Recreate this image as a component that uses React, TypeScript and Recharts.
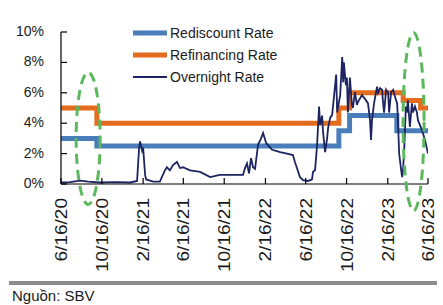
import {
  LineChart,
  Line,
  XAxis,
  YAxis,
  Legend,
  ReferenceDot,
} from 'recharts';

// x values are days after 16 Jun 2020
const START = '2020-06-16';

const tickDates = [
  '2020-06-16', '2020-10-16', '2021-02-16', '2021-06-16', '2021-10-16',
  '2022-02-16', '2022-06-16', '2022-10-16', '2023-02-16', '2023-06-16',
];

const rediscountDates = ['2020-06-16', '2020-10-01', '2022-09-23', '2022-10-25', '2023-03-15', '2023-06-16'];
const rediscountRates = [3.0, 2.5, 3.5, 4.5, 3.5, 3.5];

const refinancingDates = ['2020-06-16', '2020-10-01', '2022-09-23', '2022-10-25', '2023-04-03', '2023-05-25', '2023-06-16'];
const refinancingRates = [5.0, 4.0, 5.0, 6.0, 5.5, 5.0, 5.0];

const overnightDays = [
  0, 27, 57, 81, 116, 161, 206, 227, 233, 236, 242, 245, 251, 254, 275, 295,
  310, 316, 325, 334, 346, 355, 364, 385, 415, 445, 474, 504, 543, 549, 555,
  561, 567, 573, 579, 588, 597, 603, 612, 630, 639, 654, 674, 692, 698, 704,
  713, 722, 737, 749, 752, 758, 764, 770, 773, 779, 782, 788, 794, 797, 803,
  809, 812, 821, 824, 827, 833, 839, 842, 844, 850, 853, 856, 862, 868, 871,
  877, 883, 886, 898, 907, 916, 922, 925, 928, 934, 943, 946, 952, 958, 961,
  964, 970, 976, 979, 985, 991, 997, 1003, 1006, 1009, 1015, 1018, 1021, 1024,
  1029, 1032, 1035, 1041, 1047, 1050, 1056, 1062, 1065, 1077, 1086, 1095,
];
const overnightRates = [
  0.1, 0.12, 0.22, 0.15, 0.1, 0.12, 0.1, 0.2, 2.4, 2.8, 2.2, 2.4, 0.6, 0.3, 0.15, 0.15,
  0.9, 1.1, 0.9, 1.25, 1.45, 1.05, 1.1, 0.9, 0.8, 0.45, 0.6, 0.6, 0.6, 1.05, 1.35,
  0.7, 1.7, 1.1, 1.0, 2.6, 3.0, 3.35, 2.7, 2.25, 2.2, 2.1, 2.0, 1.9, 1.45, 1.05,
  0.45, 0.25, 0.2, 0.3, 0.8, 0.9, 2.55, 5.1, 3.9, 4.5, 3.4, 2.1, 3.0, 3.7, 4.35,
  4.55, 5.2, 7.2, 4.7, 5.1, 5.85, 8.35, 6.7, 8.0, 6.5, 7.0, 4.7, 7.0, 5.2, 5.0,
  6.05, 5.2, 5.4, 5.85, 5.6, 5.3, 4.2, 2.9, 4.2, 5.3, 6.4, 6.0, 6.3, 6.2, 5.3,
  4.7, 6.2, 6.0, 4.7, 6.05, 6.2, 5.7, 5.3, 3.75, 2.0, 0.9, 0.45, 1.1, 2.25,
  5.1, 4.7, 5.5, 3.75, 5.3, 4.7, 5.1, 4.7, 4.2, 3.55, 2.9, 2.0,
];

const yTicks = [0, 2, 4, 6, 8, 10];

// dashed green ellipses marking the rate cuts
const highlightDays = [81, 1052];
const highlightRates = [3.0, 4.1];
const highlightRy = [66, 89];

const BLUE = '#4a7ebb';
const ORANGE = '#e46c1f';
const NAVY = '#1c2461';
const GREEN = '#5cb85c';
const FONT = '"Liberation Sans", Arial, Helvetica, sans-serif';

const dayOf = (d: string) => (Date.parse(d) - Date.parse(START)) / 86400000;
const fmtDay = (day: number) => {
  const d = new Date(Date.parse(START) + day * 86400000);
  return `${d.getUTCMonth() + 1}/${d.getUTCDate()}/${String(d.getUTCFullYear()).slice(2)}`;
};

const tickDays = tickDates.map(dayOf);
const rediscount = rediscountDates.map((d, i) => ({ day: dayOf(d), value: rediscountRates[i] }));
const refinancing = refinancingDates.map((d, i) => ({ day: dayOf(d), value: refinancingRates[i] }));
const overnight = overnightDays.map((day, i) => ({ day, value: overnightRates[i] }));
const endDay = tickDays[tickDays.length - 1];

const legendItems = [
  { name: 'Rediscount Rate', color: BLUE, width: 5 },
  { name: 'Refinancing Rate', color: ORANGE, width: 5 },
  { name: 'Overnight Rate', color: NAVY, width: 2 },
];

const XTick = ({ x, y, payload }: any) => (
  <g>
    <line x1={x} y1={y} x2={x} y2={y - 6} stroke="#000" strokeWidth={1.2} />
    <text
      transform={`translate(${x + 6},${y + 14}) rotate(-90) scale(1.12,1)`}
      textAnchor="end"
      fontSize={17}
      fontFamily={FONT}
      fill="#1a1a1a"
    >
      {fmtDay(payload.value)}
    </text>
  </g>
);

const YTick = ({ x, y, payload }: any) => (
  <g>
    <line x1={x} y1={y} x2={x + 6} y2={y} stroke="#000" strokeWidth={1.2} />
    <text x={x - 17} y={y + 4} textAnchor="end" fontSize={14} fontFamily={FONT} fill="#1a1a1a">
      {`${payload.value}%`}
    </text>
  </g>
);

const renderLegend = () => (
  <div style={{ fontFamily: FONT, fontSize: 14, color: '#1a1a1a' }}>
    {legendItems.map((item) => (
      <div key={item.name} style={{ display: 'flex', alignItems: 'center', height: 22, lineHeight: '22px' }}>
        <svg width={34} height={8} style={{ display: 'block' }}>
          <line x1={0} y1={4} x2={34} y2={4} stroke={item.color} strokeWidth={item.width} />
        </svg>
        <span style={{ marginLeft: 3, whiteSpace: 'nowrap' }}>{item.name}</span>
      </div>
    ))}
  </div>
);

export default function App() {
  return (
    <div style={{ position: 'absolute', left: 0, top: 0, width: 443, height: 305, background: '#fff', overflow: 'hidden' }}>
      <LineChart width={443} height={305} margin={{ top: 32, right: 15, left: 11, bottom: 31 }}>
        <XAxis
          type="number"
          dataKey="day"
          domain={[0, endDay]}
          ticks={tickDays}
          interval={0}
          height={90}
          tickSize={0}
          tickMargin={0}
          tick={<XTick />}
          axisLine={{ stroke: '#000', strokeWidth: 1.2 }}
          allowDataOverflow
        />
        <YAxis
          type="number"
          domain={[0, 10]}
          ticks={yTicks}
          interval={0}
          width={50}
          tickSize={0}
          tickMargin={0}
          tick={<YTick />}
          axisLine={{ stroke: '#000', strokeWidth: 1.2 }}
        />
        <Legend
          layout="vertical"
          align="center"
          verticalAlign="middle"
          content={renderLegend}
          wrapperStyle={{ top: 22, left: 133, width: 'auto', height: 'auto' }}
        />
        <Line
          data={rediscount}
          dataKey="value"
          name="Rediscount Rate"
          type="stepAfter"
          stroke={BLUE}
          strokeWidth={5}
          dot={false}
          isAnimationActive={false}
        />
        <Line
          data={refinancing}
          dataKey="value"
          name="Refinancing Rate"
          type="stepAfter"
          stroke={ORANGE}
          strokeWidth={5}
          dot={false}
          isAnimationActive={false}
        />
        <Line
          data={overnight}
          dataKey="value"
          name="Overnight Rate"
          type="linear"
          stroke={NAVY}
          strokeWidth={1.8}
          dot={false}
          isAnimationActive={false}
        />
        {highlightDays.map((day, i) => (
          <ReferenceDot
            key={day}
            x={day}
            y={highlightRates[i]}
            r={1}
            ifOverflow="visible"
            shape={(p: any) => (
              <ellipse
                cx={p.cx}
                cy={p.cy}
                rx={i === 0 ? 12 : 10.5}
                ry={highlightRy[i]}
                fill="none"
                stroke={GREEN}
                strokeWidth={3}
                strokeDasharray="10 6"
              />
            )}
          />
        ))}
      </LineChart>
      <div style={{ position: 'absolute', left: 9, top: 281, width: 428, height: 4, background: '#8c8c8c' }} />
      <div style={{ position: 'absolute', left: 12, top: 287, fontFamily: FONT, fontSize: 15, color: '#1a1a1a', lineHeight: '18px' }}>
        Nguồn: SBV
      </div>
    </div>
  );
}
